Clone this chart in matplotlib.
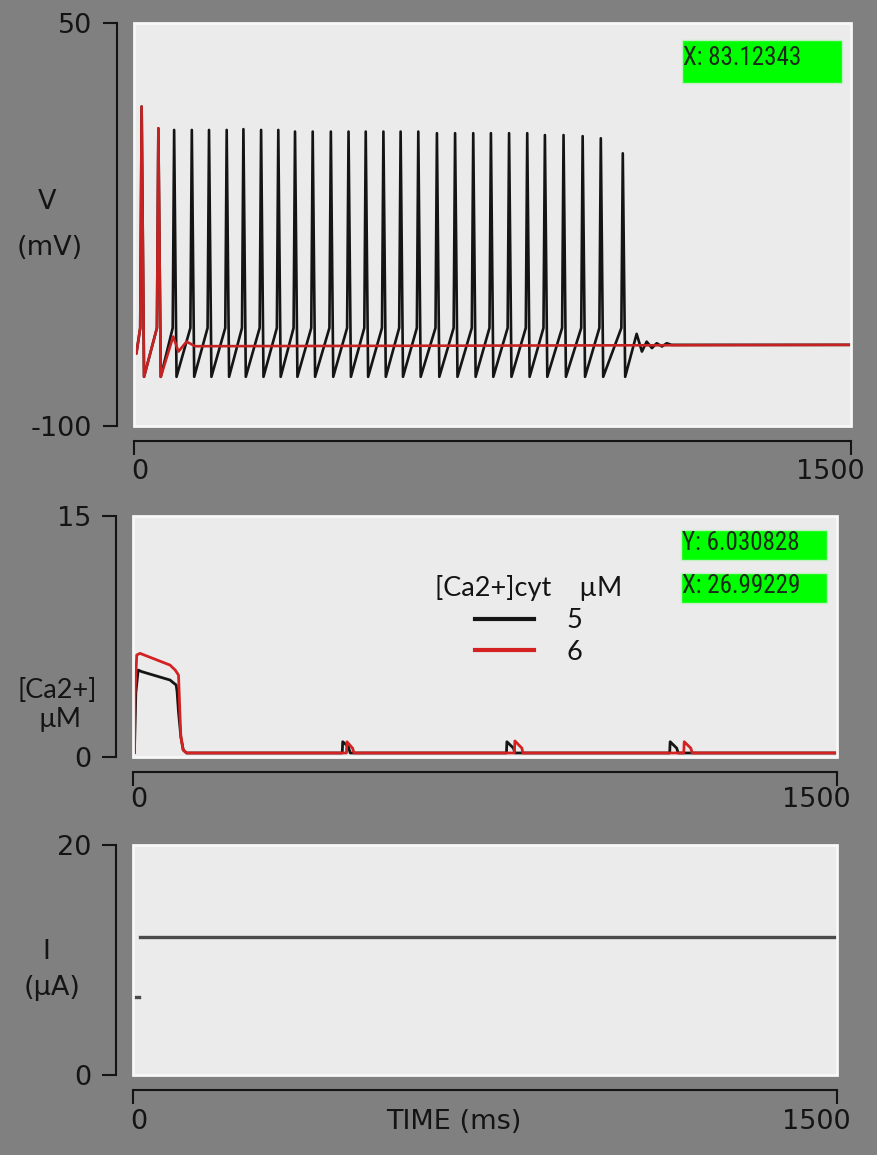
import numpy as np
import matplotlib
matplotlib.use('Agg')
import matplotlib.pyplot as plt
import matplotlib.font_manager as fm
from matplotlib.patches import Rectangle

plt.rcParams['axes.unicode_minus'] = False
plt.rcParams['font.family'] = ['DejaVu Sans']

# ---- values ----
x_ticks = [0, 1500]

# membrane potential (mV): spike times (ms) and peak values
spike_t_black = [16, 51, 84, 121, 157, 194, 229, 266, 302, 337, 374, 412, 449, 485,
                 522, 558, 595, 634, 672, 710, 747, 785, 823, 860, 899, 939, 977, 1023]
spike_peak_black = [18.9, 10.8, 10.2, 10.2, 10.2, 10.2, 10.5, 10.2, 10.2, 9.6,
                    9.6, 9.6, 9.6, 9.6, 9.6, 9.6, 9.6, 9.0, 9.0, 9.0,
                    9.0, 9.0, 9.0, 8.3, 8.3, 7.9, 7.1, 1.5]
spike_t_red = [16, 51]
spike_peak_red = [18.9, 10.8]
v_start = -73.0
v_pre = -63.5      # potential just before the upstroke
v_trough = -81.7   # after-hyperpolarisation
tail_t_black = [1052, 1063, 1073, 1084, 1094, 1105, 1115, 1125, 1500]
tail_v_black = [-65.7, -72.3, -68.6, -71.0, -69.2, -70.4, -69.2, -69.8, -69.8]
tail_t_red = [82, 93, 110, 128, 1500]
tail_v_red = [-66.7, -72.3, -68.6, -70.3, -69.8]

# cytosolic Ca2+ (uM)
ca_t_black = [0, 3, 6, 11, 19, 79, 92, 94, 97, 102, 107, 114,
              446, 447, 459, 463, 796, 797, 811, 814, 1144, 1145, 1159, 1162, 1500]
ca_black = [0.25, 0.25, 3.98, 5.41, 5.31, 4.79, 4.48, 4.06, 2.8, 1.26, 0.44, 0.25,
            0.25, 0.95, 0.64, 0.25, 0.25, 0.95, 0.55, 0.25, 0.25, 0.95, 0.55, 0.25, 0.25]
ca_t_red = [0, 3, 4, 8, 15, 79, 90, 97, 100, 102, 107, 114,
            455, 456, 468, 471, 813, 814, 829, 831, 1174, 1175, 1189, 1192, 1500]
ca_red = [0.25, 0.25, 3.75, 6.35, 6.45, 5.72, 5.41, 5.1, 2.7, 1.26, 0.44, 0.25,
          0.25, 0.95, 0.55, 0.25, 0.25, 1.0, 0.55, 0.25, 0.25, 0.95, 0.55, 0.25, 0.25]
ca_labels = ['5', '6']

# stimulus current (uA)
i_t = [0, 12, 12, 14, 1500]
i_val = [6.8, 6.8, np.nan, 12.0, 12.0]

readouts_top = ['X: 83.12343']
readouts_mid = ['Y: 6.030828', 'X: 26.99229']


def v_trace(spike_t, peaks, tail_t, tail_v):
    t = [0, 5]
    v = [v_start, v_start]
    for ts, pk in zip(spike_t, peaks):
        t += [ts - 3, ts, ts + 5]
        v += [v_pre, pk, v_trough]
    return t + tail_t, v + tail_v


# narrow face for the green read-outs, if one is installed
installed = {f.name for f in fm.fontManager.ttflist}
narrow = [n for n in ['Liberation Sans Narrow', 'Arial Narrow', 'Roboto Condensed',
                      'Open Sans Condensed'] if n in installed]
if narrow:
    READOUT_FONT = dict(family=narrow[0], fontsize=18)
else:
    READOUT_FONT = dict(family='Liberation Sans', fontsize=14.5)

BG = '#808080'
INK = '#141414'

fig = plt.figure(figsize=(8.77, 11.55), dpi=100, facecolor=BG)
W, H = 877.0, 1155.0


def make_axes(left, top, right, bottom):
    return fig.add_axes([left / W, 1 - bottom / H, (right - left) / W, (bottom - top) / H])


def style(ax, ylim, yticks, label_y=33):
    ax.set_facecolor('#ebebeb')
    ax.set_xlim(0, 1500)
    ax.set_ylim(*ylim)
    for s in ['top', 'right']:
        ax.spines[s].set_visible(False)
    ax.spines['left'].set_position(('outward', 12))
    ax.spines['bottom'].set_position(('outward', 10.5))
    for s in ['left', 'bottom']:
        ax.spines[s].set_color(INK)
        ax.spines[s].set_linewidth(1.5)
    ax.set_yticks(yticks)
    ax.set_xticks(x_ticks)
    ax.set_xticklabels([])
    ax.tick_params(direction='out', length=10, width=1.5, color=INK)
    ax.tick_params(axis='y', labelsize=19.5, pad=8, labelcolor=INK)
    ax.add_patch(Rectangle((0, 0), 1, 1, transform=ax.transAxes, fill=False,
                           ec='#f8f8f8', lw=2, zorder=5, clip_on=False))
    # x tick labels, nudged like the original
    for xv, dx in zip(x_ticks, [4, -15]):
        ax.annotate(str(xv), xy=(xv, 0), xycoords=('data', 'axes fraction'),
                    xytext=(dx, -label_y), textcoords='offset points',
                    ha='center', va='center', fontsize=19.5, color=INK,
                    annotation_clip=False)


def readout(ax, x0, x1, y0, y1, txt):
    ax.add_patch(Rectangle((x0, y0), x1 - x0, y1 - y0, transform=ax.transAxes,
                           fc='#00ff00', ec='#c0f0c0', lw=1, zorder=6))
    ax.text(x0 + 0.002, (y0 + y1) / 2 + 0.008, txt, transform=ax.transAxes,
            ha='left', va='center', color='#1c2a1c', zorder=7, **READOUT_FONT)


# ---- top: membrane potential ----
ax1 = make_axes(134, 23, 850.7, 426)
style(ax1, (-100, 50), [50, -100])
tb, vb = v_trace(spike_t_black, spike_peak_black, tail_t_black, tail_v_black)
tr, vr = v_trace(spike_t_red, spike_peak_red, tail_t_red, tail_v_red)
ax1.plot(tb, vb, color='#141414', lw=1.9, zorder=3)
ax1.plot(tr, vr, color='#c62222', lw=1.9, zorder=4)
readout(ax1, 0.764, 0.9875, 0.851, 0.958, readouts_top[0])

# ---- middle: Ca2+ ----
ax2 = make_axes(133, 516, 836.7, 757)
style(ax2, (0, 15), [0, 15], label_y=31)
l1, = ax2.plot(ca_t_black, ca_black, color='#151515', lw=2.0, zorder=3, label=ca_labels[0])
l2, = ax2.plot(ca_t_red, ca_red, color='#d42222', lw=2.0, zorder=4, label=ca_labels[1])
readout(ax2, 0.7787, 0.9858, 0.8174, 0.9419, readouts_mid[0])
readout(ax2, 0.7787, 0.9858, 0.639, 0.7635, readouts_mid[1])
leg = ax2.legend(handles=[l1, l2], title='[Ca2+]cyt    \u00b5M', frameon=False,
                 loc='upper left', bbox_to_anchor=(0.41, 0.81), borderpad=0,
                 handlelength=2.2, handletextpad=1.2, labelspacing=0.25,
                 prop={'family': 'Lato', 'size': 19.5},
                 title_fontproperties={'family': 'Lato', 'size': 19.5})
for h in leg.legend_handles:
    h.set_linewidth(3)
for t in leg.get_texts():
    t.set_color(INK)
leg.get_title().set_color(INK)

# ---- bottom: current ----
ax3 = make_axes(133, 845, 837, 1075)
style(ax3, (0, 20), [0, 20], label_y=34)
ax3.plot(i_t, i_val, color='#4a4a4a', lw=2.4, zorder=3)

# ---- axis titles ----
fig.text(46.7 / W, 1 - 201.7 / H, 'V', ha='center', va='center', fontsize=19.5, color=INK)
fig.text(50 / W, 1 - 248 / H, '(mV)', ha='center', va='center', fontsize=19.5, color=INK)
fig.text(57 / W, 1 - 690 / H, '[Ca2+]', ha='center', va='center', fontsize=19.5,
         family='Lato', color=INK)
fig.text(60 / W, 1 - 720 / H, '\u00b5M', ha='center', va='center', fontsize=19.5,
         family='Lato', color=INK)
fig.text(46 / W, 1 - 952 / H, 'I', ha='center', va='center', fontsize=19.5, color=INK)
fig.text(52 / W, 1 - 988 / H, '(\u00b5A)', ha='center', va='center', fontsize=19.5, color=INK)
fig.text(454 / W, 1 - 1122 / H, 'TIME (ms)', ha='center', va='center', fontsize=19.5, color=INK)

fig.savefig('out.png', dpi=100, facecolor=BG)
